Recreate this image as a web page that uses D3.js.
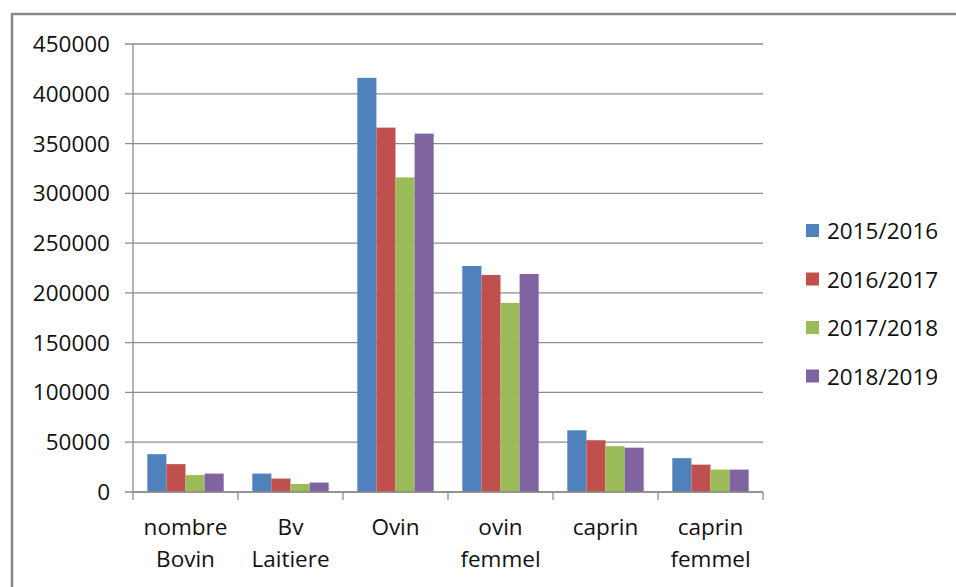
<!DOCTYPE html>
<html>
<head>
<meta charset="utf-8">
<script src="https://cdn.jsdelivr.net/npm/d3@7"></script>
<style>
    body { margin: 0; background: white; }
    text { font-family: "Open Sans", sans-serif; fill: #111; }
</style>
</head>
<body>
<svg id="chart" width="956" height="587"></svg>
<script>
var categories = [["nombre", "Bovin"], ["Bv", "Laitiere"], ["Ovin"], ["ovin", "femmel"], ["caprin"], ["caprin", "femmel"]];
var seriesNames = ["2015/2016", "2016/2017", "2017/2018", "2018/2019"];
var s2015 = [38000, 18500, 416000, 227000, 62000, 34000];
var s2016 = [28000, 13500, 366000, 218000, 52000, 27500];
var s2017 = [17000, 8000, 316000, 190000, 46000, 22500];
var s2018 = [18500, 9500, 360000, 219000, 44500, 22500];
var yTicks = [0, 50000, 100000, 150000, 200000, 250000, 300000, 350000, 400000, 450000];
var colors = ["#4F81BD", "#C0504D", "#9BBB59", "#8064A2"];

var series = [s2015, s2016, s2017, s2018];

var svg = d3.select("#chart");
var gridColor = "#8c8c8c";

// frame round the chart
svg.append("path")
    .attr("d", "M12,587 L12,14 L956,14")
    .attr("fill", "none")
    .attr("stroke", "#888")
    .attr("stroke-width", 2.5);

var plotLeft = 133, plotRight = 763, plotTop = 44, plotBottom = 492;

var x = d3.scaleBand()
    .domain(d3.range(categories.length))
    .range([plotLeft, plotRight]);

var x1 = d3.scaleBand()
    .domain(d3.range(seriesNames.length))
    .range([0, x.bandwidth()])
    .paddingOuter(0.75)
    .paddingInner(0);

var y = d3.scaleLinear()
    .domain([0, 450000])
    .range([plotBottom, plotTop]);

// gridlines and y ticks
svg.append("g").selectAll("line").data(yTicks).enter()
    .append("line")
    .attr("x1", plotLeft - 8)
    .attr("x2", plotRight)
    .attr("y1", function(d){return y(d)})
    .attr("y2", function(d){return y(d)})
    .attr("stroke", gridColor)
    .attr("stroke-width", 1.3);

svg.append("g").selectAll("text").data(yTicks).enter()
    .append("text")
    .attr("x", 110)
    .attr("y", function(d){return y(d) + 8})
    .attr("text-anchor", "end")
    .attr("font-size", 22.5)
    .text(function(d){return d});

// bars
var group = svg.append("g").selectAll("g").data(categories).enter()
    .append("g")
    .attr("transform", function(d, i){return "translate(" + x(i) + ",0)"});

group.selectAll("rect")
    .data(function(d, i){return series.map(function(s, k){return {k: k, v: s[i]}})})
    .enter()
    .append("rect")
    .attr("x", function(d){return x1(d.k)})
    .attr("width", x1.bandwidth())
    .attr("y", function(d){return y(d.v)})
    .attr("height", function(d){return plotBottom - y(d.v)})
    .attr("fill", function(d){return colors[d.k]});

// axes lines
svg.append("line")
    .attr("x1", plotLeft).attr("x2", plotLeft)
    .attr("y1", plotTop).attr("y2", plotBottom)
    .attr("stroke", gridColor).attr("stroke-width", 1.3);
svg.append("line")
    .attr("x1", plotLeft).attr("x2", plotRight)
    .attr("y1", plotBottom).attr("y2", plotBottom)
    .attr("stroke", gridColor).attr("stroke-width", 1.3);

svg.append("g").selectAll("line").data(d3.range(categories.length + 1)).enter()
    .append("line")
    .attr("x1", function(i){return plotLeft + i * x.bandwidth()})
    .attr("x2", function(i){return plotLeft + i * x.bandwidth()})
    .attr("y1", plotBottom)
    .attr("y2", plotBottom + 8)
    .attr("stroke", gridColor).attr("stroke-width", 1.3);

// category labels
var label = svg.append("g").selectAll("text").data(categories).enter()
    .append("text")
    .attr("text-anchor", "middle")
    .attr("font-size", 22.5);
label.selectAll("tspan")
    .data(function(d, i){return d.map(function(t){return {t: t, i: i}})})
    .enter()
    .append("tspan")
    .attr("x", function(d){return x(d.i) + x.bandwidth() / 2})
    .attr("y", function(d, j){return 535 + j * 32})
    .text(function(d){return d.t});

// legend
var legend = svg.append("g").selectAll("g").data(seriesNames).enter()
    .append("g")
    .attr("transform", function(d, i){return "translate(806," + (224 + i * 48.5) + ")"});
legend.append("rect")
    .attr("width", 13)
    .attr("height", 13)
    .attr("fill", function(d, i){return colors[i]});
legend.append("text")
    .attr("x", 21)
    .attr("y", 15)
    .attr("font-size", 22.5)
    .text(function(d){return d});
</script>
</body>
</html>
